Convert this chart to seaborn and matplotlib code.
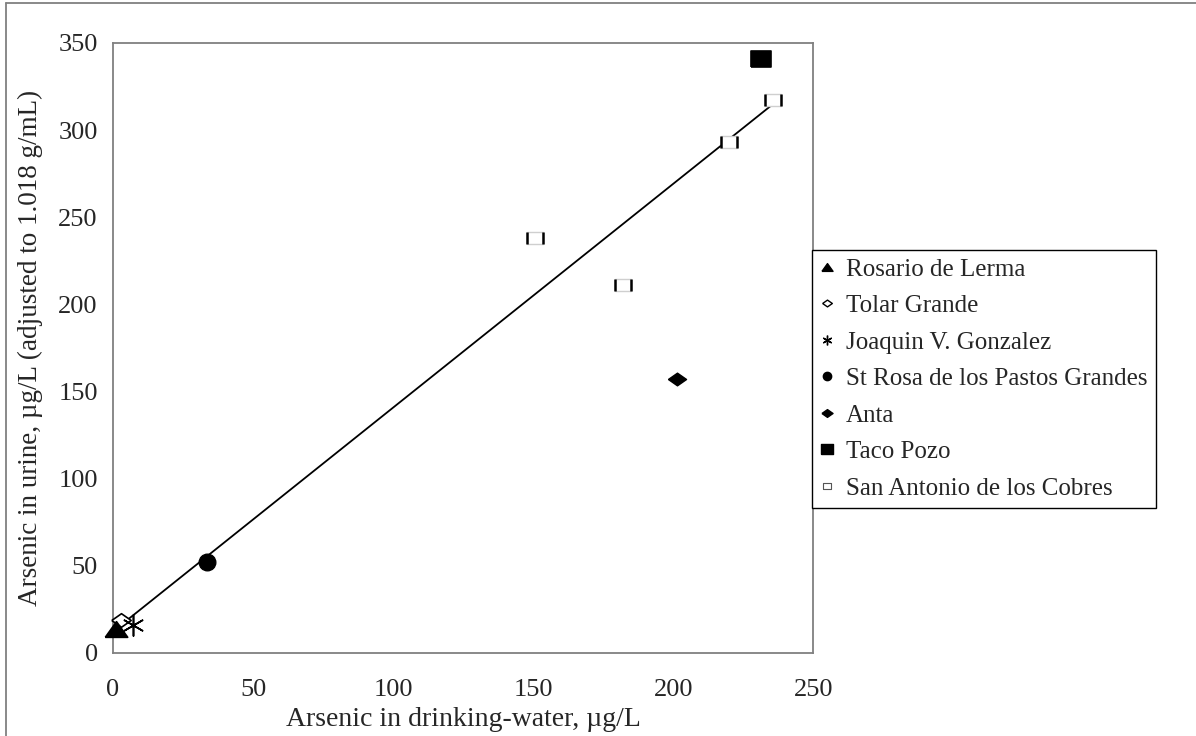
import numpy as np
import pandas as pd
import matplotlib
matplotlib.use('Agg')
import matplotlib.pyplot as plt
from matplotlib.lines import Line2D
from matplotlib.path import Path
import seaborn as sns

# values (group means per village)
sites = ['Rosario de Lerma', 'Tolar Grande', 'Joaquin V. Gonzalez',
         'St Rosa de los Pastos Grandes', 'Anta', 'Taco Pozo',
         'San Antonio de los Cobres', 'San Antonio de los Cobres',
         'San Antonio de los Cobres', 'San Antonio de los Cobres']
water = [1, 3, 7, 33.5, 201.5, 231.5, 150.5, 182, 220, 235.5]
urine = [14, 19, 16, 52, 157, 341, 238, 211, 293, 317]

# linear trend shown on the chart
trend_slope = 1.284
trend_intercept = 12.4

legend_order = ['Rosario de Lerma', 'Tolar Grande', 'Joaquin V. Gonzalez',
                'St Rosa de los Pastos Grandes', 'Anta', 'Taco Pozo',
                'San Antonio de los Cobres']

df = pd.DataFrame({'site': sites, 'water': water, 'urine': urine})

sns.set_style('white')
plt.rcParams['font.family'] = ['Liberation Serif', 'DejaVu Serif']
plt.rcParams['font.size'] = 19

# Excel-like marker shapes
wide_tri = [(-1, -0.7), (1, -0.7), (0, 0.7), (-1, -0.7)]
wide_diamond = [(-1, 0), (0, 0.7), (1, 0), (0, -0.7), (-1, 0)]
rect = [(-1, -0.8), (1, -0.8), (1, 0.8), (-1, 0.8), (-1, -0.8)]
sa_box = [(-1, -0.75), (1, -0.75), (1, 0.75), (-1, 0.75), (-1, -0.75)]
sa_bars = Path([(-1, -0.75), (-1, 0.75), (1, -0.75), (1, 0.75)],
               [Path.MOVETO, Path.LINETO, Path.MOVETO, Path.LINETO])

styles = {
    'Rosario de Lerma': dict(marker=wide_tri, s=16 ** 2, color='black', edgecolor='black', zorder=6),
    'Tolar Grande': dict(marker=wide_diamond, s=14 ** 2, color='white', edgecolor='black',
                         linewidth=1.2, zorder=4),
    'Joaquin V. Gonzalez': dict(marker=(6, 2, 0), s=15 ** 2, color='black', linewidth=1.2, zorder=5),
    'St Rosa de los Pastos Grandes': dict(marker='o', s=12 ** 2, color='black', edgecolor='black', zorder=4),
    'Anta': dict(marker=wide_diamond, s=13 ** 2, color='black', edgecolor='black', zorder=4),
    'Taco Pozo': dict(marker=rect, s=15 ** 2, color='black', edgecolor='black', zorder=4),
    'San Antonio de los Cobres': dict(marker=sa_box, s=12 ** 2, color='white', edgecolor='#cfcfcf',
                                      linewidth=1.0, zorder=4),
}

fig = plt.figure(figsize=(11.96, 7.36), dpi=100)
ax = fig.add_axes([0.0945, 0.1128, 0.5855, 0.8288])

# trendline across the range of the data
xs = np.array([min(water), max(water)])
ax.plot(xs, trend_intercept + trend_slope * xs, color='black', lw=1.3, zorder=3)

for site in legend_order:
    sub = df[df['site'] == site]
    sns.scatterplot(data=sub, x='water', y='urine', ax=ax, legend=False,
                    clip_on=False, **styles[site])
    if site == 'San Antonio de los Cobres':
        ax.plot(sub['water'], sub['urine'], ls='none', marker=sa_bars, ms=12,
                mec='black', mew=1.8, zorder=5)

ax.set_xlim(0, 250)
ax.set_ylim(0, 350)
ax.set_xticks(np.arange(0, 251, 50))
ax.set_yticks(np.arange(0, 351, 50))
for sp in ax.spines.values():
    sp.set_color('#808080')
    sp.set_linewidth(1.3)
ax.tick_params(direction='out', length=4, width=1.2, color='#808080', labelsize=19)
ax.tick_params(axis='x', pad=15)
ax.tick_params(axis='y', pad=7)
ax.set_xlabel('Arsenic in drinking-water, µg/L', fontsize=20, labelpad=4)
ax.set_ylabel('Arsenic in urine, µg/L (adjusted to 1.018 g/mL)', fontsize=19.5, labelpad=11)

# legend with small markers like the original
handles = [
    Line2D([], [], ls='none', marker=wide_tri, ms=8, color='black'),
    Line2D([], [], ls='none', marker=wide_diamond, ms=7, mfc='white', mec='black'),
    Line2D([], [], ls='none', marker=(6, 2, 0), ms=7, color='black'),
    Line2D([], [], ls='none', marker='o', ms=6, color='black'),
    Line2D([], [], ls='none', marker=wide_diamond, ms=8, color='black'),
    Line2D([], [], ls='none', marker=rect, ms=9, color='black'),
    Line2D([], [], ls='none', marker=sa_box, ms=6, mfc='white', mec='#555555', mew=0.8),
]
leg = fig.legend(handles, legend_order, loc='upper left',
                 bbox_to_anchor=(0.679, 0.661), bbox_transform=fig.transFigure,
                 frameon=True, fancybox=False, edgecolor='black', framealpha=1,
                 borderaxespad=0, handlelength=0.55, handletextpad=0.45,
                 labelspacing=0.56, borderpad=0.34, fontsize=18)
leg.get_frame().set_linewidth(1.0)

# outer chart-area border (top and left visible in the original)
fig.add_artist(Line2D([0.005, 1.0], [0.996, 0.996], transform=fig.transFigure,
                      color='#808080', lw=1.3))
fig.add_artist(Line2D([0.005, 0.005], [0.0, 0.996], transform=fig.transFigure,
                      color='#808080', lw=1.3))

fig.savefig('out.png', dpi=100)
